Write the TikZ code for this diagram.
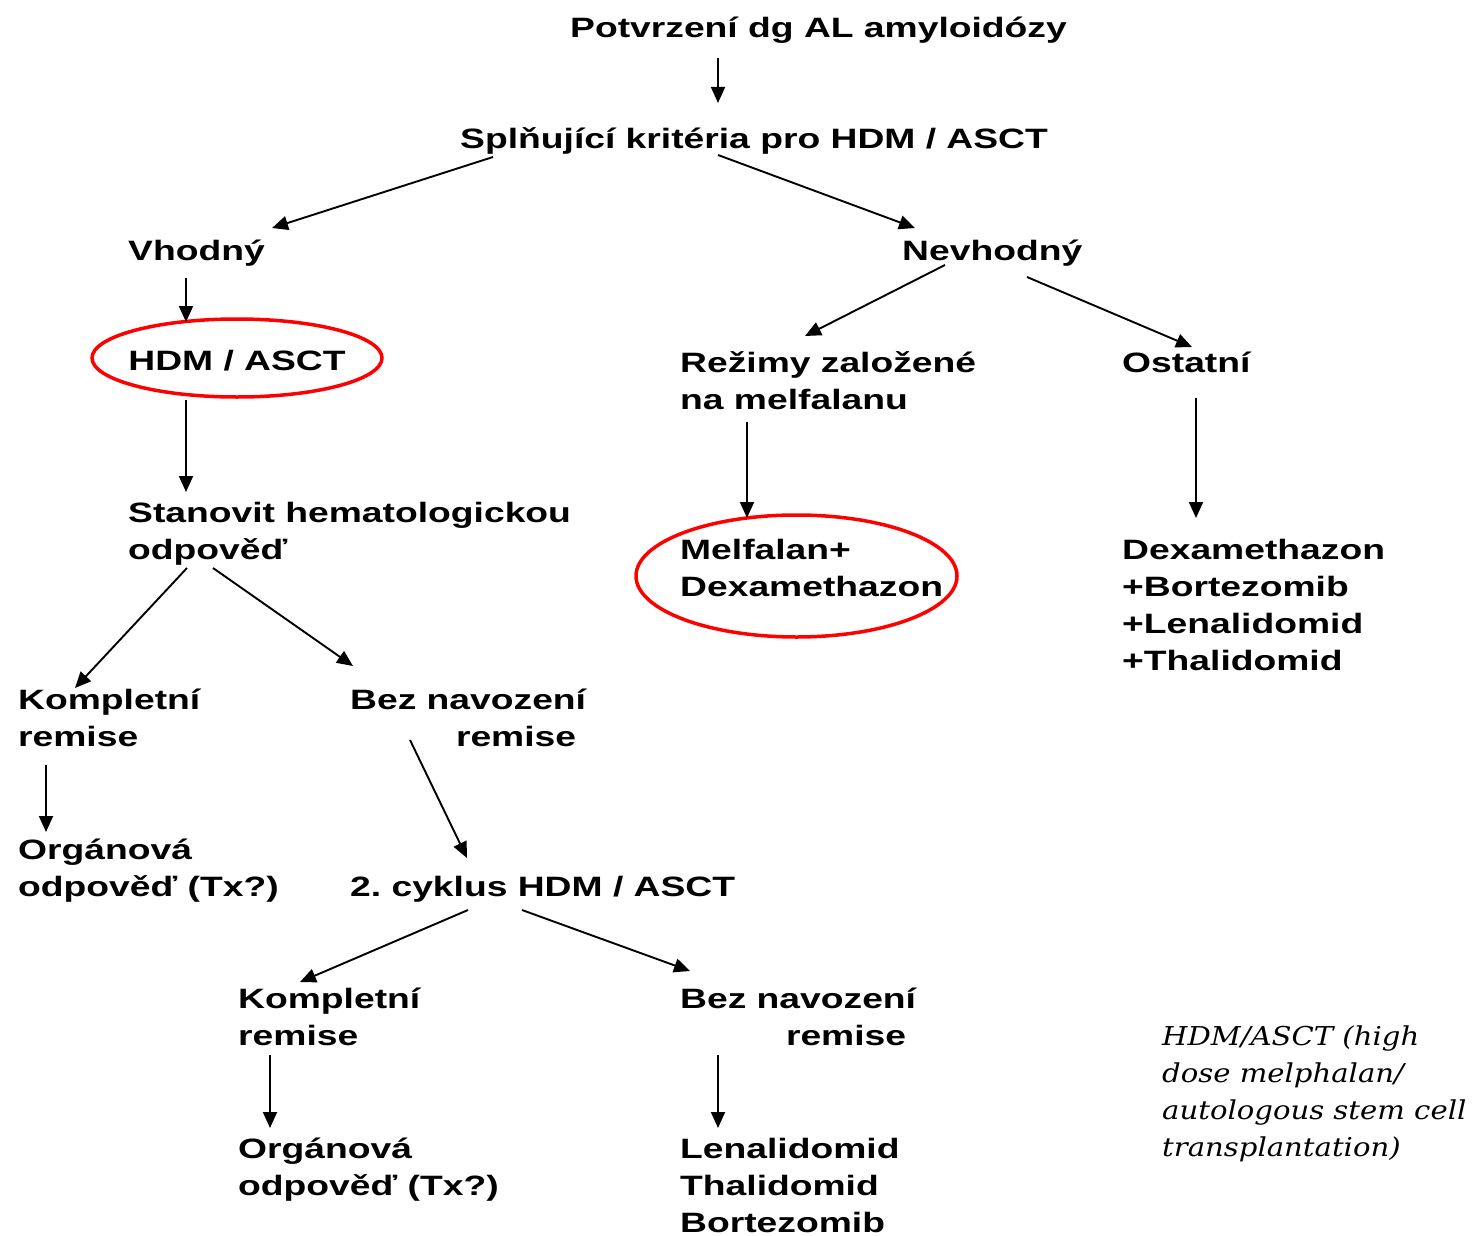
\documentclass[tikz,border=0pt]{standalone}
\usepackage{fontspec}
\usetikzlibrary{arrows.meta,shapes.geometric}
\newfontfamily\dfont[FakeStretch=1.33]{Liberation Sans}
\newfontfamily\nfont[FakeStretch=1.12]{DejaVu Serif}
\newcommand\ml[1]{\vtop{\halign{##\hfil\cr#1\crcr}}}
\frenchspacing
\begin{document}
\begin{tikzpicture}[x=1pt,y=-1pt,
  txt/.style={inner sep=0pt, anchor=base west, font=\dfont\bfseries\fontsize{28}{37}\selectfont},
  note/.style={inner sep=0pt, anchor=base west, font=\nfont\itshape\fontsize{26}{37}\selectfont},
  ring/.style={draw=red, line width=3.5pt, ellipse, inner sep=0pt},
  arr/.style={draw, line width=1.9pt, -{Triangle[length=16pt,width=14pt]}}]
\useasboundingbox (0,0) rectangle (1472,1236);
% nodes
\node[txt] (top)   at (570,38)  {Potvrzení dg AL amyloidózy};
\node[txt] (split) at (460,149) {Splňující kritéria pro HDM / ASCT};
\node[txt] (vhod)  at (128,260) {Vhodný};
\node[txt] (nevh)  at (902,260) {Nevhodný};
\node[ring, font=\dfont\bfseries\fontsize{28}{37}\selectfont, text height=24pt, text depth=0pt, inner xsep=-7pt, minimum width=290pt, minimum height=78pt] (hdm) at (237,358) {HDM / ASCT};
\node[txt] (stan)  at (128,522) {\ml{Stanovit hematologickou\cr odpověď\cr}};
\node[txt] (komp1) at (18,709)  {\ml{Kompletní\cr remise\cr}};
\node[txt] (bez1)  at (350,709) {\ml{Bez navození\cr\hfill remise\hspace*{10pt}\cr}};
\node[txt] (org1)  at (18,859)  {\ml{Orgánová\cr odpověď (Tx?)\cr}};
\node[txt] (cyk)   at (350,896) {2.\ cyklus HDM / ASCT};
\node[txt] (komp2) at (238,1008) {\ml{Kompletní\cr remise\cr}};
\node[txt] (bez2)  at (680,1008) {\ml{Bez navození\cr\hfill remise\hspace*{10pt}\cr}};
\node[txt] (org2)  at (238,1158) {\ml{Orgánová\cr odpověď (Tx?)\cr}};
\node[txt] (lena)  at (680,1158) {\ml{Lenalidomid\cr Thalidomid\cr Bortezomib\cr}};
\node[txt] (rez)   at (680,372) {\ml{Režimy založené\cr na melfalanu\cr}};
\node[txt] (ost)   at (1122,372) {Ostatní};
\node[txt] (melf)  at (680,559) {\ml{Melfalan+\cr Dexamethazon\cr}};
\node[ring, minimum width=321pt, minimum height=122pt] (melfring) at (796.5,576) {};
\node[txt] (dexa)  at (1122,559) {\ml{Dexamethazon\cr +Bortezomib\cr +Lenalidomid\cr +Thalidomid\cr}};
\node[note] (legend) at (1162,1045) {\ml{HDM/ASCT (high\cr dose melphalan/\cr autologous stem cell\cr transplantation)\cr}};
% connectors
\draw[arr] ([shift={(148,20)}]top.base west) -- ([shift={(258,-46)}]split.base west);
\draw[arr] ([shift={(33,8)}]split.base west) -- ([shift={(144,-32)}]vhod.base west);
\draw[arr] ([shift={(258,6)}]split.base west) -- ([shift={(13,-32)}]nevh.base west);
\draw[arr] ([shift={(58,18)}]vhod.base west) -- ([shift={(-51,-36)}]hdm.center);
\draw[arr] ([shift={(-51,42)}]hdm.center) -- ([shift={(58,-30)}]stan.base west);
\draw[arr] ([shift={(59,46)}]stan.base west) -- ([shift={(57,-21)}]komp1.base west);
\draw[arr] ([shift={(85,46)}]stan.base west) -- ([shift={(3,-43)}]bez1.base west);
\draw[arr] ([shift={(28,56)}]komp1.base west) -- ([shift={(28,-27)}]org1.base west);
\draw[arr] ([shift={(60,31)}]bez1.base west) -- ([shift={(117,-38)}]cyk.base west);
\draw[arr] ([shift={(118,14)}]cyk.base west) -- ([shift={(62,-26)}]komp2.base west);
\draw[arr] ([shift={(172,14)}]cyk.base west) -- ([shift={(10,-37)}]bez2.base west);
\draw[arr] ([shift={(32,47)}]komp2.base west) -- ([shift={(32,-30)}]org2.base west);
\draw[arr] ([shift={(38,47)}]bez2.base west) -- ([shift={(38,-30)}]lena.base west);
\draw[arr] ([shift={(43,5)}]nevh.base west) -- ([shift={(125,-36)}]rez.base west);
\draw[arr] ([shift={(125,17)}]nevh.base west) -- ([shift={(70,-25)}]ost.base west);
\draw[arr] ([shift={(67,50)}]rez.base west) -- ([shift={(-49.5,-58)}]melfring.center);
\draw[arr] ([shift={(74,26)}]ost.base west) -- ([shift={(74,-41)}]dexa.base west);
\end{tikzpicture}
\end{document}
